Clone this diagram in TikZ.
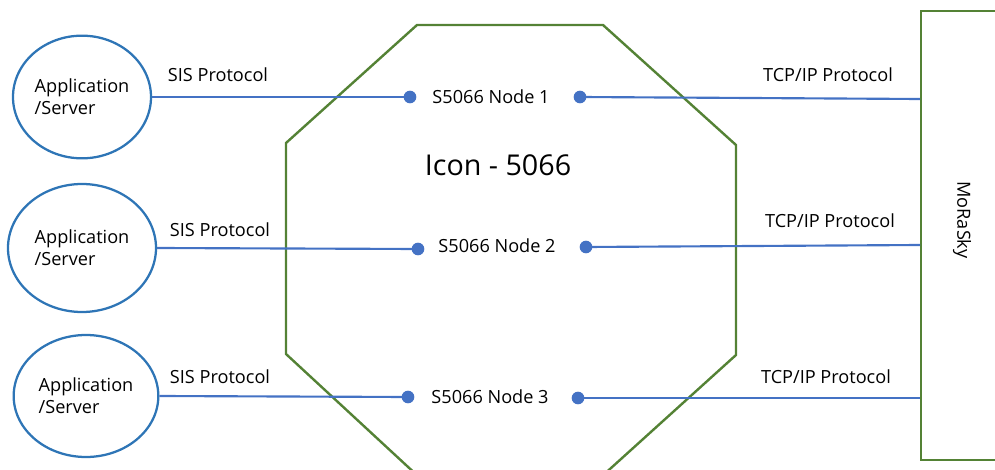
\documentclass[tikz,border=0pt]{standalone}
\usepackage{fontspec}
\setmainfont{Open Sans}
\usetikzlibrary{positioning, shapes.geometric, calc}
\definecolor{linkBlue}{HTML}{4472C4}
\definecolor{ringBlue}{HTML}{2E75B6}
\definecolor{hubGreen}{HTML}{548235}

\begin{document}
\begin{tikzpicture}[x=0.75pt,y=-0.75pt,
        every node/.style={font=\fontsize{13.6}{16.5}\selectfont,inner sep=0pt},
        app/.style={ellipse,draw=ringBlue,line width=1.7pt,align=left},
        dot/.style={circle,fill=linkBlue,minimum size=9.5pt},
        link/.style={draw=linkBlue,line width=1.6pt},
        hub/.style={draw=hubGreen,line width=1.8pt}]
        \clip (0,0) rectangle (995,470);
        \draw[hub] (417,25) -- (603,25) -- (736,145) -- (736,355) -- (600,478)
          -- (420,478) -- (286,354) -- (286,143) -- cycle;
        \node[draw=hubGreen,line width=1.8pt,minimum width=80pt,minimum height=336.75pt,anchor=north west]
          (morasky) at (920,10) {};
        \node[rotate=-90] (moraskytext) at (962,220) {MoRaSky};
        \node[font=\fontsize{21.5}{24}\selectfont] (icon) at (498,165) {Icon - 5066};
        \node[app,minimum width=103.5pt,minimum height=92pt] (app1) at (82,97) {Application\\/Server};
        \node[app,minimum width=111pt,minimum height=96pt] (app2) at (82,248) {Application\\/Server};
        \node[app,minimum width=108.5pt,minimum height=91.5pt] (app3) at (86,396) {Application\\/Server};
        \node[dot] (dl1) at (410,97) {};
        \node[dot] (dr1) at (580,97) {};
        \node[dot] (dl2) at (418,249) {};
        \node[dot] (dr2) at (586,247) {};
        \node[dot] (dl3) at (408,397) {};
        \node[dot] (dr3) at (578,398) {};
        \coordinate (m1) at (920,99);
        \coordinate (m2) at (920,245);
        \coordinate (m3) at (920,398);
        \node (node1) at (491,97) {S5066 Node 1};
        \node (node2) at (497,246) {S5066 Node 2};
        \node (node3) at (490,397) {S5066 Node 3};
        \node (sis1) at (218,75) {SIS Protocol};
        \node (sis2) at (220,230) {SIS Protocol};
        \node (sis3) at (220,377) {SIS Protocol};
        \node (tcp1) at (828,75) {TCP/IP Protocol};
        \node (tcp2) at (830,221) {TCP/IP Protocol};
        \node (tcp3) at (826,377) {TCP/IP Protocol};
        \draw[link] (app1.east) -- (dl1.center);
        \draw[link] (app2.east) -- (dl2.center);
        \draw[link] (app3.east) -- (dl3.center);
        \draw[link] (dr1.center) -- (m1);
        \draw[link] (dr2.center) -- (m2);
        \draw[link] (dr3.center) -- (m3);
      \end{tikzpicture}
\end{document}
